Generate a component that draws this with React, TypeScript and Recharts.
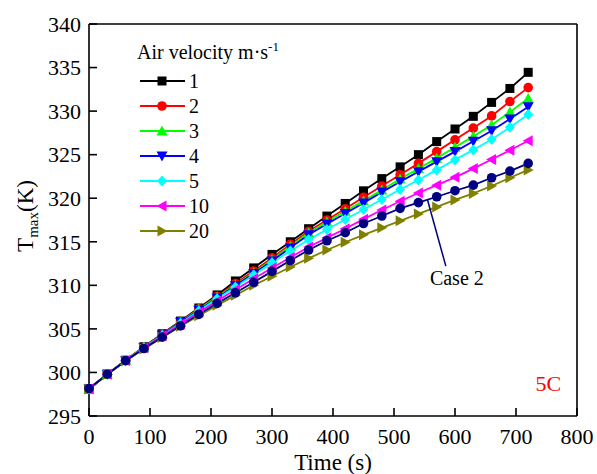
import { LineChart, Line, XAxis, YAxis, Legend, ReferenceLine, ReferenceDot } from 'recharts'

const FONT = '"Liberation Serif", "Times New Roman", serif'

// time (s)
const times = [0, 30, 60, 90, 120, 150, 180, 210, 240, 270, 300, 330, 360, 390, 420, 450, 480, 510, 540, 570, 600, 630, 660, 690, 720]

// T_max (K) per air velocity
const v1 = [298.1, 299.8, 301.4, 302.95, 304.45, 305.9, 307.4, 308.9, 310.5, 312.0, 313.55, 315.0, 316.5, 317.95, 319.4, 320.85, 322.25, 323.6, 325.0, 326.5, 327.95, 329.4, 331.0, 332.6, 334.45]
const v2 = [298.1, 299.8, 301.4, 302.9, 304.4, 305.85, 307.3, 308.75, 310.2, 311.65, 313.15, 314.7, 316.2, 317.5, 318.8, 320.1, 321.4, 322.7, 324.0, 325.35, 326.7, 328.05, 329.45, 331.1, 332.7]
const v3 = [298.1, 299.8, 301.4, 302.9, 304.35, 305.8, 307.25, 308.65, 310.05, 311.45, 312.95, 314.5, 316.0, 317.3, 318.5, 319.7, 320.95, 322.2, 323.4, 324.6, 325.85, 327.1, 328.4, 329.9, 331.45]
const v4 = [298.1, 299.8, 301.35, 302.85, 304.3, 305.75, 307.15, 308.55, 309.95, 311.35, 312.8, 314.3, 315.8, 317.05, 318.25, 319.45, 320.7, 321.9, 323.05, 324.2, 325.35, 326.55, 327.75, 329.1, 330.5]
const v5 = [298.1, 299.8, 301.35, 302.85, 304.25, 305.65, 307.05, 308.45, 309.8, 311.2, 312.6, 313.95, 315.25, 316.4, 317.55, 318.7, 319.85, 321.0, 322.1, 323.25, 324.4, 325.55, 326.75, 328.15, 329.6]
const v10 = [298.1, 299.8, 301.35, 302.8, 304.2, 305.55, 306.9, 308.2, 309.5, 310.75, 312.0, 313.2, 314.4, 315.45, 316.5, 317.6, 318.65, 319.65, 320.6, 321.5, 322.4, 323.4, 324.45, 325.5, 326.6]
const v20 = [298.1, 299.75, 301.3, 302.7, 304.0, 305.3, 306.5, 307.7, 308.85, 310.0, 311.05, 312.1, 313.1, 314.05, 314.95, 315.8, 316.6, 317.4, 318.2, 319.0, 319.8, 320.55, 321.4, 322.35, 323.25]
const case2 = [298.15, 299.8, 301.35, 302.75, 304.05, 305.35, 306.67, 307.93, 309.15, 310.35, 311.6, 312.85, 314.05, 315.12, 316.04, 317.1, 317.96, 318.84, 319.5, 320.17, 320.86, 321.5, 322.35, 323.12, 324.0]

const xTicks = [0, 100, 200, 300, 400, 500, 600, 700, 800]
const yTicks = [295, 300, 305, 310, 315, 320, 325, 330, 335, 340]

const series = [
  { key: 'v1', name: '1', values: v1, color: '#000000', shape: 'square' },
  { key: 'v2', name: '2', values: v2, color: '#ff0000', shape: 'circle' },
  { key: 'v3', name: '3', values: v3, color: '#00ff00', shape: 'up' },
  { key: 'v4', name: '4', values: v4, color: '#0000ff', shape: 'down' },
  { key: 'v5', name: '5', values: v5, color: '#00ffff', shape: 'diamond' },
  { key: 'v10', name: '10', values: v10, color: '#ff00ff', shape: 'left' },
  { key: 'v20', name: '20', values: v20, color: '#808000', shape: 'right' },
]
const case2Series = { key: 'case2', name: 'Case 2', values: case2, color: '#000080', shape: 'circle' }

const allSeries = [...series, case2Series]
const data = times.map((t, i) => {
  const row: Record<string, number> = { t }
  allSeries.forEach((s) => { row[s.key] = s.values[i] })
  return row
})

function Marker({ shape, cx, cy, color }: { shape: string; cx: number; cy: number; color: string }) {
  if (cx == null || cy == null) return null
  const s = 5.5
  switch (shape) {
    case 'square':
      return <rect x={cx - 4.5} y={cy - 4.5} width={9} height={9} fill={color} />
    case 'circle':
      return <circle cx={cx} cy={cy} r={4.8} fill={color} />
    case 'up':
      return <polygon points={`${cx},${cy - s} ${cx - s},${cy + 4.5} ${cx + s},${cy + 4.5}`} fill={color} />
    case 'down':
      return <polygon points={`${cx},${cy + s} ${cx - s},${cy - 4.5} ${cx + s},${cy - 4.5}`} fill={color} />
    case 'diamond':
      return <polygon points={`${cx},${cy - s} ${cx + 5},${cy} ${cx},${cy + s} ${cx - 5},${cy}`} fill={color} />
    case 'left':
      return <polygon points={`${cx - s},${cy} ${cx + 4.5},${cy - s} ${cx + 4.5},${cy + s}`} fill={color} />
    case 'right':
      return <polygon points={`${cx + s},${cy} ${cx - 4.5},${cy - s} ${cx - 4.5},${cy + s}`} fill={color} />
    default:
      return null
  }
}

function LegendBox() {
  return (
    <svg width={230} height={215} style={{ overflow: 'visible', fontFamily: FONT }}>
      <text x={7} y={29} fontFamily={FONT} fontSize={20} fill="#000">
        Air velocity m·s
        <tspan fontSize={13} dy={-8}>-1</tspan>
      </text>
      {series.map((s, i) => {
        const y = 51 + i * 25
        return (
          <g key={s.key}>
            <line x1={10} x2={55} y1={y} y2={y} stroke={s.color} strokeWidth={1.8} />
            <Marker shape={s.shape} cx={32} cy={y} color={s.color} />
            <text x={59} y={y + 7} fontFamily={FONT} fontSize={20} fill="#000">{s.name}</text>
          </g>
        )
      })}
    </svg>
  )
}

function YTitle() {
  return (
    <text transform="translate(33, 216) rotate(-90)" textAnchor="middle" fontFamily={FONT} fontSize={23} fill="#000">
      T<tspan fontSize={15} dy={5}>max</tspan><tspan dy={-5}>(K)</tspan>
    </text>
  )
}

export default function App() {
  const tickStyle = { fontFamily: FONT, fontSize: 22, fill: '#000' }
  return (
    <div style={{ position: 'absolute', left: 0, top: 0, background: '#fff', fontFamily: FONT }}>
      <LineChart width={597} height={474} data={data} margin={{ top: 24, right: 20, left: 0, bottom: 0 }} style={{ fontFamily: FONT }}>
        <XAxis
          dataKey="t"
          type="number"
          domain={[0, 800]}
          ticks={xTicks}
          interval={0}
          height={58}
          tickSize={-8}
          tickMargin={20}
          tick={tickStyle}
          stroke="#000"
          strokeWidth={1.6}
          label={{ value: 'Time (s)', position: 'insideBottom', offset: 4, fontFamily: FONT, fontSize: 23, fill: '#000' }}
        />
        <YAxis
          type="number"
          domain={[295, 340]}
          ticks={yTicks}
          interval={0}
          width={89}
          tickSize={-8}
          tickMargin={16}
          tick={tickStyle}
          stroke="#000"
          strokeWidth={1.6}
          label={{ content: () => <YTitle /> }}
        />
        <ReferenceLine y={340} stroke="#000" strokeWidth={1.6} />
        <ReferenceLine x={800} stroke="#000" strokeWidth={1.6} />
        <Legend
          layout="vertical"
          align="center"
          verticalAlign="middle"
          content={() => <LegendBox />}
          wrapperStyle={{ left: 130, top: 30, width: 230, height: 215 }}
        />
        {[...series.slice(0, 6), series[6], case2Series].map((s) => (
          <Line
            key={s.key}
            dataKey={s.key}
            name={s.name}
            stroke={s.color}
            strokeWidth={1.8}
            isAnimationActive={false}
            dot={(p: any) => <Marker key={`${s.key}-${p.index}`} shape={s.shape} cx={p.cx} cy={p.cy} color={s.color} />}
            activeDot={false}
          />
        ))}
        <ReferenceLine
          segment={[{ x: 555, y: 319.8 }, { x: 585, y: 312.2 }]}
          stroke="#000080"
          strokeWidth={1.5}
        />
        <ReferenceDot
          x={603}
          y={310.8}
          r={0}
          fill="none"
          stroke="none"
          label={{ value: 'Case 2', position: 'center', fontFamily: FONT, fontSize: 20, fill: '#000' }}
        />
        <ReferenceDot
          x={753}
          y={298.8}
          r={0}
          fill="none"
          stroke="none"
          label={{ value: '5C', position: 'center', fontFamily: FONT, fontSize: 22, fill: '#ff0000' }}
        />
      </LineChart>
    </div>
  )
}
